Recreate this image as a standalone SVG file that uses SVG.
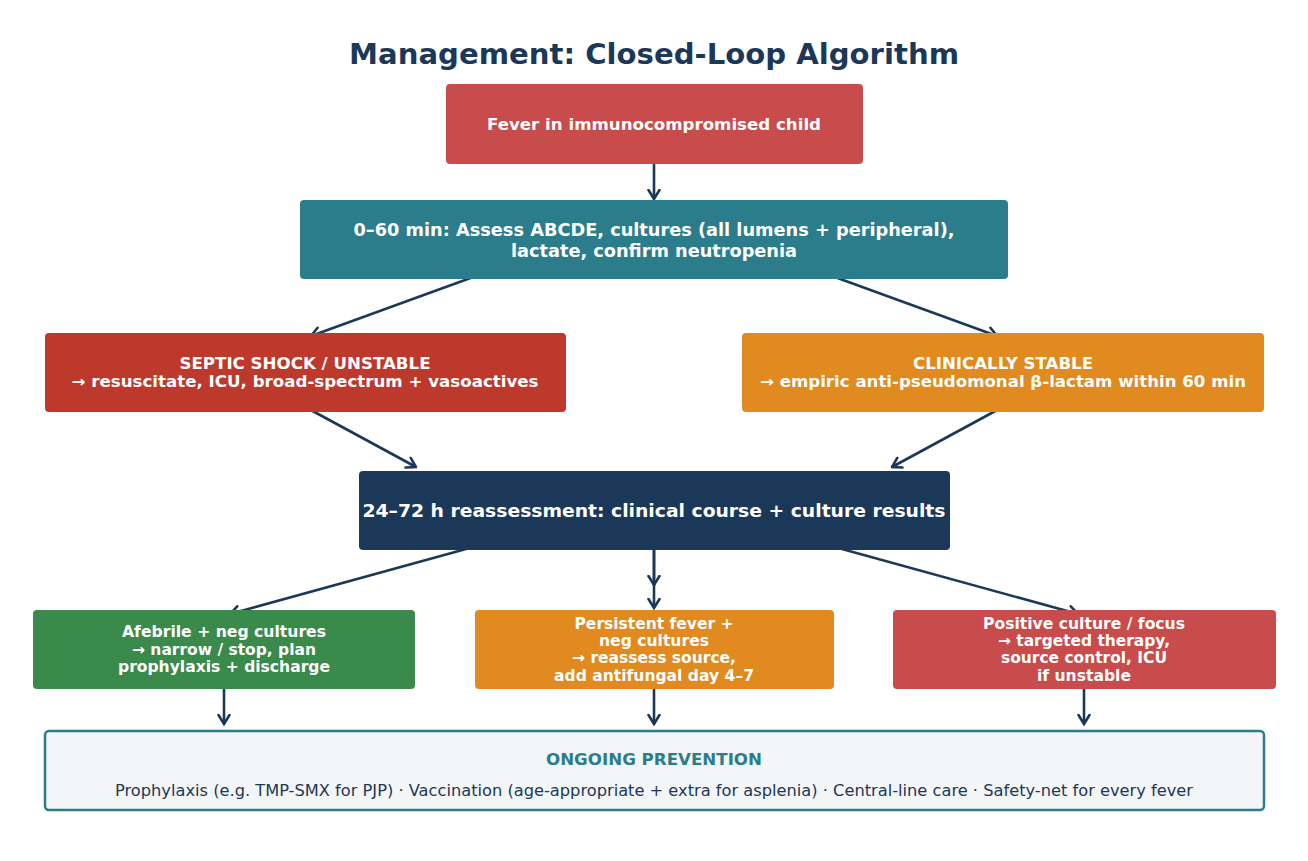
<svg xmlns="http://www.w3.org/2000/svg" width="1308" height="861" viewBox="0 0 1308 861">
<style>
text{font-family:"DejaVu Sans","Liberation Sans",sans-serif;text-anchor:middle}
.w{fill:#ffffff;font-weight:bold}
.title{fill:#1c3859;font-weight:bold;font-size:28px}
.c{stroke:#1c3859;stroke-width:2.6;fill:none;marker-end:url(#ah)}
</style>
<defs>
<marker id="ah" viewBox="0 0 12 14" refX="10.5" refY="7" markerWidth="12" markerHeight="14" markerUnits="userSpaceOnUse" orient="auto">
<path d="M1.5,1.5 L10.5,7 L1.5,12.5" fill="none" stroke="#1c3859" stroke-width="2.6" stroke-linecap="round" stroke-linejoin="miter"/>
</marker>
</defs>
<rect width="1308" height="861" fill="#ffffff"/>
<text class="title" x="654" y="64" textLength="610" lengthAdjust="spacingAndGlyphs">Management: Closed-Loop Algorithm</text>
<g id="connectors">
<line class="c" x1="654" y1="162" x2="654" y2="199"/>
<line class="c" x1="476" y1="276" x2="311" y2="336"/>
<line class="c" x1="832" y1="276" x2="997" y2="336"/>
<line class="c" x1="309" y1="409" x2="416" y2="467"/>
<line class="c" x1="999" y1="409" x2="892" y2="467"/>
<line class="c" x1="466" y1="549" x2="230" y2="614"/>
<line class="c" x1="654" y1="549" x2="654" y2="585"/>
<line class="c" x1="654" y1="549" x2="654" y2="608"/>
<line class="c" x1="842" y1="549" x2="1078" y2="614"/>
<line class="c" x1="224" y1="688" x2="224" y2="724"/>
<line class="c" x1="654" y1="688" x2="654" y2="724"/>
<line class="c" x1="1084" y1="688" x2="1084" y2="724"/>
</g>
<g id="fever">
<rect x="446" y="84" width="417" height="80" rx="4" fill="#c84c4b"/>
<text class="w" x="654" y="130" font-size="16" textLength="334" lengthAdjust="spacingAndGlyphs">Fever in immunocompromised child</text>
</g>
<g id="assess">
<rect x="300" y="200" width="708" height="79" rx="4" fill="#2b7d8c"/>
<text class="w" x="654" y="236" font-size="17" textLength="601" lengthAdjust="spacingAndGlyphs">0–60 min: Assess ABCDE, cultures (all lumens + peripheral),</text>
<text class="w" x="654" y="257" font-size="17" textLength="286" lengthAdjust="spacingAndGlyphs">lactate, confirm neutropenia</text>
</g>
<g id="shock">
<rect x="45" y="333" width="521" height="79" rx="4" fill="#bd392b"/>
<text class="w" x="305" y="369" font-size="15" textLength="251" lengthAdjust="spacingAndGlyphs">SEPTIC SHOCK / UNSTABLE</text>
<text class="w" x="305" y="387" font-size="15" textLength="467" lengthAdjust="spacingAndGlyphs">→ resuscitate, ICU, broad-spectrum + vasoactives</text>
</g>
<g id="stable">
<rect x="742" y="333" width="522" height="79" rx="4" fill="#e08a20"/>
<text class="w" x="1003" y="369" font-size="15" textLength="180" lengthAdjust="spacingAndGlyphs">CLINICALLY STABLE</text>
<text class="w" x="1003" y="387" font-size="15" textLength="486" lengthAdjust="spacingAndGlyphs">→ empiric anti-pseudomonal β-lactam within 60 min</text>
</g>
<g id="reassess">
<rect x="359" y="471" width="591" height="79" rx="4" fill="#1c3859"/>
<text class="w" x="654" y="517" font-size="18" textLength="583" lengthAdjust="spacingAndGlyphs">24–72 h reassessment: clinical course + culture results</text>
</g>
<g id="afebrile">
<rect x="33" y="610" width="382" height="79" rx="4" fill="#3a8a4b"/>
<text class="w" x="224" y="637" font-size="15" textLength="204" lengthAdjust="spacingAndGlyphs">Afebrile + neg cultures</text>
<text class="w" x="224" y="655" font-size="15" textLength="184" lengthAdjust="spacingAndGlyphs">→ narrow / stop, plan</text>
<text class="w" x="224" y="672" font-size="15" textLength="212" lengthAdjust="spacingAndGlyphs">prophylaxis + discharge</text>
</g>
<g id="persistent">
<rect x="475" y="610" width="359" height="79" rx="4" fill="#e08a20"/>
<text class="w" x="654" y="629" font-size="15" textLength="159" lengthAdjust="spacingAndGlyphs">Persistent fever +</text>
<text class="w" x="654" y="646" font-size="15" textLength="110" lengthAdjust="spacingAndGlyphs">neg cultures</text>
<text class="w" x="654" y="663" font-size="15" textLength="164" lengthAdjust="spacingAndGlyphs">→ reassess source,</text>
<text class="w" x="654" y="681" font-size="15" textLength="200" lengthAdjust="spacingAndGlyphs">add antifungal day 4–7</text>
</g>
<g id="positive">
<rect x="893" y="610" width="383" height="79" rx="4" fill="#c84c4b"/>
<text class="w" x="1084" y="629" font-size="15" textLength="202" lengthAdjust="spacingAndGlyphs">Positive culture / focus</text>
<text class="w" x="1084" y="646" font-size="15" textLength="172" lengthAdjust="spacingAndGlyphs">→ targeted therapy,</text>
<text class="w" x="1084" y="663" font-size="15" textLength="166" lengthAdjust="spacingAndGlyphs">source control, ICU</text>
<text class="w" x="1084" y="681" font-size="15" textLength="94" lengthAdjust="spacingAndGlyphs">if unstable</text>
</g>
<g id="prevention">
<rect x="45" y="731" width="1219" height="79" rx="4" fill="#f3f5f7" stroke="#2b7d8c" stroke-width="2.5"/>
<text x="654" y="765" font-size="15" font-weight="bold" fill="#2b7d8c" textLength="216" lengthAdjust="spacingAndGlyphs">ONGOING PREVENTION</text>
<text x="654" y="796" font-size="15" fill="#1c3859" textLength="1078" lengthAdjust="spacingAndGlyphs">Prophylaxis (e.g. TMP-SMX for PJP) · Vaccination (age-appropriate + extra for asplenia) · Central-line care · Safety-net for every fever</text>
</g>
</svg>
